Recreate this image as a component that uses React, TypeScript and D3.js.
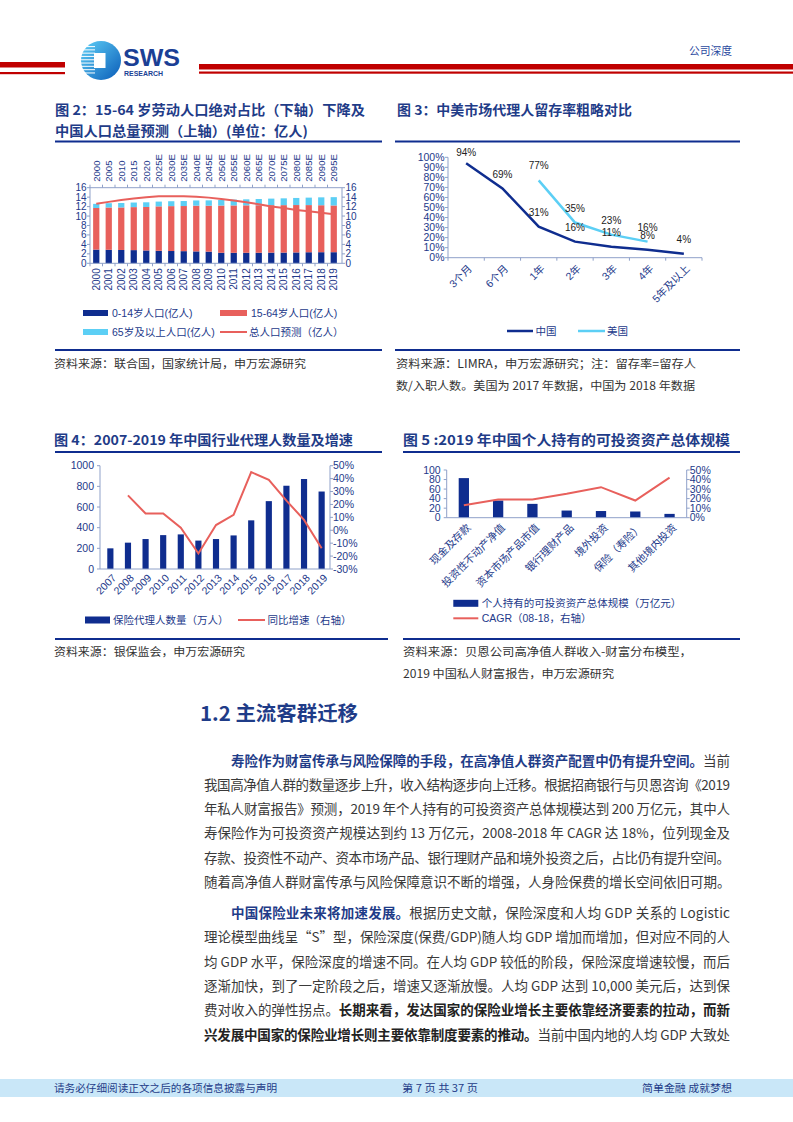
import React from "react";
import * as d3 from "d3";

// ---------- Colours & fonts ----------
const NAVY = "#0f2d8f";
const RED = "#e8605c";
const LIGHT = "#5ccff5";
const BLUE_TXT = "#1f3c88";
const AXIS = "#8fa1c9";
const TICK_TXT = "#23398a";
const BODY = "#3a3a3a";
const AX_FONT = "'Liberation Sans', 'Noto Sans CJK SC', sans-serif";
const CJK = "'Noto Sans CJK SC', sans-serif";

// ---------- Figure 2 data ----------
const popYears = ["2000","2001","2002","2003","2004","2005","2006","2007","2008","2009","2010","2011","2012","2013","2014","2015","2016","2017","2018","2019"];
const popTopLabels = ["2000","2005","2010","2015","2020","2025E","2030E","2035E","2040E","2045E","2050E","2055E","2060E","2065E","2070E","2075E","2080E","2085E","2090E","2095E"];
const pop0to14 = [2.90,2.86,2.82,2.79,2.72,2.65,2.60,2.57,2.52,2.47,2.23,2.22,2.23,2.23,2.26,2.27,2.30,2.34,2.35,2.35];
const pop15to64 = [8.80,8.95,9.00,9.10,9.20,9.40,9.50,9.55,9.68,9.72,9.99,10.03,10.04,10.06,10.05,10.04,10.03,9.98,9.94,9.89];
const pop65plus = [0.88,0.91,0.94,0.97,0.99,1.01,1.04,1.06,1.10,1.13,1.19,1.23,1.27,1.32,1.38,1.44,1.50,1.58,1.67,1.76];
const popForecast = [12.6,13.0,13.4,13.7,14.0,14.2,14.2,14.2,14.1,13.9,13.6,13.3,12.9,12.5,12.0,11.7,11.3,11.0,10.7,10.4];
const popTicks = [0,2,4,6,8,10,12,14,16];
const popLegend = ["0-14岁人口(亿人)","15-64岁人口(亿人)","65岁及以上人口(亿人)","总人口预测（亿人）"];

// ---------- Figure 3 data ----------
const retCats = ["3个月","6个月","1年","2年","3年","4年","5年及以上"];
const retChina = [94,69,31,16,11,8,4];
const retUS: (number | null)[] = [null,null,77,35,23,16,null];
const retTicks = [0,10,20,30,40,50,60,70,80,90,100];
const retLegend = ["中国","美国"];

// ---------- Figure 4 data ----------
const agentYears = ["2007","2008","2009","2010","2011","2012","2013","2014","2015","2016","2017","2018","2019"];
const agentCount = [200,255,290,328,335,275,290,325,471,657,806,871,750];
const agentGrowth: (number | null)[] = [null,27,13,13,2,-18,4,12,45,39,23,8,-14];
const agentLeftTicks = [0,200,400,600,800,1000];
const agentRightTicks = [-30,-20,-10,0,10,20,30,40,50];
const agentLegend = ["保险代理人数量（万人）","同比增速（右轴）"];

// ---------- Figure 5 data ----------
const assetCats = ["现金及存款","投资性不动产净值","资本市场产品市值","银行理财产品","境外投资","保险（寿险）","其他境内投资"];
const assetScale = [83,36,29,15,14,13,8];
const assetCagr = [13,19,19,25,32,18,42];
const assetLeftTicks = [0,20,40,60,80,100];
const assetRightTicks = [0,10,20,30,40,50];
const assetLegend = ["个人持有的可投资资产总体规模（万亿元）","CAGR（08-18，右轴）"];

// ---------- Text content ----------
type Seg = { t: string; s?: "b" | "k" };
const para1: Seg[][] = [
  [{ t: "寿险作为财富传承与风险保障的手段，在高净值人群资产配置中仍有提升空间。", s: "b" }, { t: "当前" }],
  [{ t: "我国高净值人群的数量逐步上升，收入结构逐步向上迁移。根据招商银行与贝恩咨询《2019" }],
  [{ t: "年私人财富报告》预测，2019 年个人持有的可投资资产总体规模达到 200 万亿元，其中人" }],
  [{ t: "寿保险作为可投资资产规模达到约 13 万亿元，2008-2018 年 CAGR 达 18%，位列现金及" }],
  [{ t: "存款、投资性不动产、资本市场产品、银行理财产品和境外投资之后，占比仍有提升空间。" }],
  [{ t: "随着高净值人群财富传承与风险保障意识不断的增强，人身险保费的增长空间依旧可期。" }],
];
const para2: Seg[][] = [
  [{ t: "中国保险业未来将加速发展。", s: "b" }, { t: "根据历史文献，保险深度和人均 GDP 关系的 Logistic" }],
  [{ t: "理论模型曲线呈“S”型，保险深度(保费/GDP)随人均 GDP 增加而增加，但对应不同的人" }],
  [{ t: "均 GDP 水平，保险深度的增速不同。在人均 GDP 较低的阶段，保险深度增速较慢，而后" }],
  [{ t: "逐渐加快，到了一定阶段之后，增速又逐渐放慢。人均 GDP 达到 10,000 美元后，达到保" }],
  [{ t: "费对收入的弹性拐点。" }, { t: "长期来看，发达国家的保险业增长主要依靠经济要素的拉动，而新", s: "k" }],
  [{ t: "兴发展中国家的保险业增长则主要依靠制度要素的推动。", s: "k" }, { t: "当前中国内地的人均 GDP 大致处" }],
];

// ---------- helpers ----------
const RotLabel = ({ x, y, text, angle = -45, anchor = "end", size = 10 }: any) => (
  <text
    transform={`translate(${x},${y}) rotate(${angle})`}
    textAnchor={anchor}
    dy="0.35em"
    fontSize={size}
    fontFamily={AX_FONT}
    fill={TICK_TXT}
  >
    {text}
  </text>
);

function Fig2() {
  const x = d3.scaleBand<string>().domain(popYears).range([90, 340]).paddingInner(0.5).paddingOuter(0.25);
  const xt = d3.scaleBand<string>().domain(popTopLabels).range([90, 340]).paddingInner(0.5).paddingOuter(0.25);
  const y = d3.scaleLinear().domain([0, 16]).range([263.3, 187.7]);
  const rows = popYears.map((yr, i) => ({ yr, a: pop0to14[i], b: pop15to64[i], c: pop65plus[i] }));
  const series = d3.stack<any>().keys(["a", "b", "c"])(rows);
  const colors = [NAVY, RED, LIGHT];
  const line = d3
    .line<number>()
    .x((_, i) => (xt(popTopLabels[i]) as number) + xt.bandwidth() / 2)
    .y((d) => y(d));
  const xl = 90, xr = 342;
  const y0 = y(0), yT = y(16);
  const step = x.step();
  return (
    <g>
      {series.map((s, si) =>
        s.map((d, i) => (
          <rect key={`${si}-${i}`} x={x(popYears[i])} y={y(d[1])} width={x.bandwidth()} height={y(d[0]) - y(d[1])} fill={colors[si]} />
        ))
      )}
      <path d={line(popForecast) || ""} fill="none" stroke={RED} strokeWidth={2} />
      <line x1={xl} x2={xl} y1={yT} y2={y0} stroke={AXIS} />
      <line x1={xr} x2={xr} y1={yT} y2={y0} stroke={AXIS} />
      <line x1={xl} x2={xr} y1={y0} y2={y0} stroke={AXIS} />
      <line x1={xl} x2={xr} y1={yT} y2={yT} stroke={AXIS} />
      {popYears.map((yr) => {
        const bx = (x(yr) as number) - (step - x.bandwidth()) / 2;
        return (
          <g key={yr}>
            <line x1={bx} x2={bx} y1={y0} y2={y0 + 3} stroke={AXIS} />
            <line x1={bx} x2={bx} y1={yT} y2={yT - 3} stroke={AXIS} />
          </g>
        );
      })}
      {popTicks.map((t) => (
        <g key={t}>
          <line x1={xl - 3} x2={xl} y1={y(t)} y2={y(t)} stroke={AXIS} />
          <line x1={xr} x2={xr + 3} y1={y(t)} y2={y(t)} stroke={AXIS} />
          <text x={xl - 3.5} y={y(t)} dy="0.35em" textAnchor="end" fontSize={10} fontFamily={AX_FONT} fill={TICK_TXT}>{t}</text>
          <text x={xr + 3.5} y={y(t)} dy="0.35em" textAnchor="start" fontSize={10} fontFamily={AX_FONT} fill={TICK_TXT}>{t}</text>
        </g>
      ))}
      {popYears.map((yr) => (
        <RotLabel key={yr} x={(x(yr) as number) + x.bandwidth() / 2} y={y0 + 5} text={yr} angle={-90} anchor="end" size={10} />
      ))}
      {popTopLabels.map((yr) => (
        <RotLabel key={yr} x={(xt(yr) as number) + xt.bandwidth() / 2} y={yT - 6} text={yr} angle={-90} anchor="start" size={9.5} />
      ))}
      {/* legend */}
      <rect x={83} y={310} width={25} height={6} fill={NAVY} />
      <text x={112} y={313} dy="0.35em" fontSize={10.5} fontFamily={AX_FONT} fill={TICK_TXT}>{popLegend[0]}</text>
      <rect x={220} y={310} width={27} height={6} fill={RED} />
      <text x={251} y={313} dy="0.35em" fontSize={10.5} fontFamily={AX_FONT} fill={TICK_TXT}>{popLegend[1]}</text>
      <rect x={83} y={329} width={25} height={6} fill={LIGHT} />
      <text x={112} y={332} dy="0.35em" fontSize={10.5} fontFamily={AX_FONT} fill={TICK_TXT}>{popLegend[2]}</text>
      <line x1={220} x2={247} y1={332} y2={332} stroke={RED} strokeWidth={2} />
      <text x={249} y={332} dy="0.35em" fontSize={10.5} fontFamily={AX_FONT} fill={TICK_TXT}>{popLegend[3]}</text>
    </g>
  );
}

function Fig3() {
  const x = d3.scaleBand<string>().domain(retCats).range([448, 702]);
  const y = d3.scaleLinear().domain([0, 100]).range([257.7, 157.3]);
  const cx = (c: string) => (x(c) as number) + x.bandwidth() / 2;
  const line = d3
    .line<number | null>()
    .defined((d) => d != null)
    .x((_, i) => cx(retCats[i]))
    .y((d) => y(d as number));
  const y0 = y(0);
  return (
    <g>
      <line x1={448} x2={448} y1={y(100)} y2={y0} stroke={AXIS} />
      <line x1={448} x2={702} y1={y0} y2={y0} stroke={AXIS} />
      {retTicks.map((t) => (
        <g key={t}>
          <line x1={445} x2={448} y1={y(t)} y2={y(t)} stroke={AXIS} />
          <text x={444.5} y={y(t)} dy="0.35em" textAnchor="end" fontSize={10.5} fontFamily={AX_FONT} fill={TICK_TXT}>{t}%</text>
        </g>
      ))}
      {retCats.map((c) => (
        <line key={c} x1={x(c)} x2={x(c)} y1={y0} y2={y0 + 3} stroke={AXIS} />
      ))}
      <line x1={702} x2={702} y1={y0} y2={y0 + 3} stroke={AXIS} />
      <path d={line(retChina) || ""} fill="none" stroke={NAVY} strokeWidth={2.5} />
      <path d={line(retUS) || ""} fill="none" stroke={LIGHT} strokeWidth={2.5} />
      {retChina.map((v, i) => (
        <text key={"c" + i} x={cx(retCats[i])} y={Math.max(y(v) - 14, 152)} dy="0.35em" textAnchor="middle" fontSize={10} fontFamily={AX_FONT} fill="#222">{v}%</text>
      ))}
      {retUS.map((v, i) =>
        v == null ? null : (
          <text key={"u" + i} x={cx(retCats[i])} y={y(v) - 14.5} dy="0.35em" textAnchor="middle" fontSize={10} fontFamily={AX_FONT} fill="#222">{v}%</text>
        )
      )}
      {retCats.map((c) => (
        <RotLabel key={c} x={cx(c) + 4} y={y0 + 9} text={c} size={10.5} />
      ))}
      <line x1={507} x2={533} y1={331} y2={331} stroke={NAVY} strokeWidth={2.5} />
      <text x={535.5} y={331} dy="0.35em" fontSize={10.5} fontFamily={AX_FONT} fill={TICK_TXT}>{retLegend[0]}</text>
      <line x1={578} x2={605} y1={331} y2={331} stroke={LIGHT} strokeWidth={2.5} />
      <text x={607} y={331} dy="0.35em" fontSize={10.5} fontFamily={AX_FONT} fill={TICK_TXT}>{retLegend[1]}</text>
    </g>
  );
}

function Fig4() {
  const x = d3.scaleBand<string>().domain(agentYears).range([102, 330]).paddingInner(0.65).paddingOuter(0.3);
  const yl = d3.scaleLinear().domain([0, 1000]).range([569, 465.7]);
  const yr = d3.scaleLinear().domain([-30, 50]).range([569, 465.7]);
  const cx = (c: string) => (x(c) as number) + x.bandwidth() / 2;
  const line = d3
    .line<number | null>()
    .defined((d) => d != null)
    .x((_, i) => cx(agentYears[i]))
    .y((d) => yr(d as number));
  const xl = 100, xr = 330, y0 = 569;
  return (
    <g>
      {agentCount.map((v, i) => (
        <rect key={i} x={x(agentYears[i])} y={yl(v)} width={x.bandwidth()} height={y0 - yl(v)} fill={NAVY} />
      ))}
      <path d={line(agentGrowth) || ""} fill="none" stroke={RED} strokeWidth={2} />
      <line x1={xl} x2={xl} y1={465.7} y2={y0} stroke={AXIS} />
      <line x1={xr} x2={xr} y1={465.7} y2={y0} stroke={AXIS} />
      <line x1={xl} x2={xr} y1={y0} y2={y0} stroke={AXIS} />
      {agentLeftTicks.map((t) => (
        <g key={t}>
          <line x1={xl - 3} x2={xl} y1={yl(t)} y2={yl(t)} stroke={AXIS} />
          <text x={xl - 6} y={yl(t)} dy="0.35em" textAnchor="end" fontSize={10.5} fontFamily={AX_FONT} fill={TICK_TXT}>{t}</text>
        </g>
      ))}
      {agentRightTicks.map((t) => (
        <g key={t}>
          <line x1={xr} x2={xr + 3} y1={yr(t)} y2={yr(t)} stroke={AXIS} />
          <text x={xr + 3} y={yr(t)} dy="0.35em" textAnchor="start" fontSize={10.5} fontFamily={AX_FONT} fill={TICK_TXT}>{t}%</text>
        </g>
      ))}
      {agentYears.map((c) => (
        <RotLabel key={c} x={cx(c) + 4} y={y0 + 7} text={c} size={10.5} />
      ))}
      <rect x={85} y={616.5} width={25} height={7} fill={NAVY} />
      <text x={113} y={620} dy="0.35em" fontSize={10.5} fontFamily={AX_FONT} fill={TICK_TXT}>{agentLegend[0]}</text>
      <line x1={238} x2={265} y1={620} y2={620} stroke={RED} strokeWidth={2} />
      <text x={267.5} y={620} dy="0.35em" fontSize={10.5} fontFamily={AX_FONT} fill={TICK_TXT}>{agentLegend[1]}</text>
    </g>
  );
}

function Fig5() {
  const x = d3.scaleBand<string>().domain(assetCats).range([446.7, 686.7]).paddingInner(0.7).paddingOuter(0.35);
  const yl = d3.scaleLinear().domain([0, 100]).range([517.7, 470]);
  const yr = d3.scaleLinear().domain([0, 50]).range([517.7, 470]);
  const cx = (c: string) => (x(c) as number) + x.bandwidth() / 2;
  const line = d3
    .line<number>()
    .x((_, i) => cx(assetCats[i]))
    .y((d) => yr(d));
  const xl = 446.7, xr = 686.7, y0 = 517.7;
  return (
    <g>
      {assetScale.map((v, i) => (
        <rect key={i} x={x(assetCats[i])} y={yl(v)} width={x.bandwidth()} height={y0 - yl(v)} fill={NAVY} />
      ))}
      <path d={line(assetCagr) || ""} fill="none" stroke={RED} strokeWidth={2} />
      <line x1={xl} x2={xl} y1={470} y2={y0} stroke={AXIS} />
      <line x1={xr} x2={xr} y1={470} y2={y0} stroke={AXIS} />
      <line x1={xl} x2={xr} y1={y0} y2={y0} stroke={AXIS} />
      {assetLeftTicks.map((t) => (
        <g key={t}>
          <line x1={xl - 3} x2={xl} y1={yl(t)} y2={yl(t)} stroke={AXIS} />
          <text x={xl - 6} y={yl(t)} dy="0.35em" textAnchor="end" fontSize={10.5} fontFamily={AX_FONT} fill={TICK_TXT}>{t}</text>
        </g>
      ))}
      {assetRightTicks.map((t) => (
        <g key={t}>
          <line x1={xr} x2={xr + 3} y1={yr(t)} y2={yr(t)} stroke={AXIS} />
          <text x={xr + 3} y={yr(t)} dy="0.35em" textAnchor="start" fontSize={10.5} fontFamily={AX_FONT} fill={TICK_TXT}>{t}%</text>
        </g>
      ))}
      {assetCats.map((c) => (
        <RotLabel key={c} x={cx(c) + 5} y={y0 + 8} text={c} size={10.5} />
      ))}
      <rect x={453.3} y={599.8} width={25} height={7} fill={NAVY} />
      <text x={481.7} y={603.3} dy="0.35em" fontSize={10.5} fontFamily={AX_FONT} fill={TICK_TXT}>{assetLegend[0]}</text>
      <line x1={453.3} x2={478.3} y1={618.3} y2={618.3} stroke={RED} strokeWidth={2} />
      <text x={481.7} y={618.3} dy="0.35em" fontSize={10.5} fontFamily={AX_FONT} fill={TICK_TXT}>{assetLegend[1]}</text>
    </g>
  );
}

const Title = ({ x, y, w, children }: any) => (
  <text x={x} y={y} fontSize={13.5} fontWeight={700} fontFamily={CJK} fill={BLUE_TXT} textLength={w} lengthAdjust="spacingAndGlyphs">
    {children}
  </text>
);
const Source = ({ x, y, w, children }: any) => (
  <text x={x} y={y} fontSize={11.5} fontFamily={CJK} fill="#333" textLength={w} lengthAdjust="spacingAndGlyphs">
    {children}
  </text>
);

function Paragraph({ lines, y0, justifyLast }: { lines: Seg[][]; y0: number; justifyLast: boolean }) {
  const right = 730;
  return (
    <g>
      {lines.map((ln, i) => {
        const x = i === 0 ? 231 : 204;
        const justify = justifyLast || i < lines.length - 1;
        return (
          <text
            key={i}
            x={x}
            y={y0 + i * 24.3}
            fontSize={13.5}
            fontFamily={CJK}
            fill={BODY}
            textLength={justify ? right - x : undefined}
            lengthAdjust="spacing"
          >
            {ln.map((sg, j) => (
              <tspan key={j} fontWeight={sg.s ? 700 : 400} fill={sg.s === "b" ? BLUE_TXT : sg.s === "k" ? "#222" : BODY}>
                {sg.t}
              </tspan>
            ))}
          </text>
        );
      })}
    </g>
  );
}

function Header() {
  const stripes = d3.range(9);
  return (
    <g>
      <defs>
        <linearGradient id="logoG" x1="0" y1="0" x2="1" y2="1">
          <stop offset="0" stopColor="#5fd0f7" />
          <stop offset="1" stopColor="#0a5cb8" />
        </linearGradient>
      </defs>
      <rect x={0} y={62} width={65} height={5.5} fill="#c00000" />
      <rect x={0} y={72} width={65} height={2.2} fill="#c00000" />
      <rect x={199} y={64} width={594} height={5.5} fill="#c00000" />
      <rect x={199} y={71.5} width={594} height={2.2} fill="#c00000" />
      <ellipse cx={101} cy={60.5} rx={20} ry={19.5} fill="url(#logoG)" />
      {stripes.map((i) => (
        <rect key={i} x={81} y={46 + i * 3.3} width={14} height={1.1} fill="#ffffff" opacity={0.9} />
      ))}
      <rect x={94} y={53} width={11.5} height={15} fill="#ffffff" />
      <text x={123} y={66} fontSize={24} fontWeight={700} fontFamily="'Liberation Sans', sans-serif" fill="#1b3f95" textLength={57} lengthAdjust="spacingAndGlyphs">SWS</text>
      <text x={124} y={75.5} fontSize={6.5} fontWeight={700} fontFamily="'Liberation Sans', sans-serif" fill="#1b3f95" textLength={39} lengthAdjust="spacingAndGlyphs">RESEARCH</text>
      <text x={689} y={55} fontSize={11} fontFamily={CJK} fill="#2b4aa0" textLength={43} lengthAdjust="spacingAndGlyphs">公司深度</text>
    </g>
  );
}

function Footer() {
  return (
    <g>
      <rect x={0} y={1079} width={793} height={18} fill="#c9e7f8" />
      <text x={54} y={1088} dy="0.35em" fontSize={10.5} fontFamily={CJK} fill={BLUE_TXT} textLength={223} lengthAdjust="spacingAndGlyphs">请务必仔细阅读正文之后的各项信息披露与声明</text>
      <text x={402} y={1088} dy="0.35em" fontSize={10.5} fontFamily={CJK} fill={BLUE_TXT} textLength={76} lengthAdjust="spacingAndGlyphs">第 7 页 共 37 页</text>
      <text x={642} y={1088} dy="0.35em" fontSize={10.5} fontFamily={CJK} fill={BLUE_TXT} textLength={90} lengthAdjust="spacingAndGlyphs">简单金融 成就梦想</text>
    </g>
  );
}

export default function App() {
  return (
    <svg
      width={793}
      height={1122}
      viewBox="0 0 793 1122"
      style={{ position: "absolute", left: 0, top: 0, background: "#fff" }}
    >
      <rect x={0} y={0} width={793} height={1122} fill="#fff" />
      <Header />

      {/* Figure titles row 1 */}
      <Title x={55} y={115} w={310}>图 2：15-64 岁劳动人口绝对占比（下轴）下降及</Title>
      <Title x={55} y={136} w={253}>中国人口总量预测（上轴）(单位：亿人)</Title>
      <Title x={397} y={115} w={235}>图 3：中美市场代理人留存率粗略对比</Title>
      <line x1={55} x2={382} y1={141.5} y2={141.5} stroke="#0f2d8f" strokeWidth={2} />
      <line x1={395} x2={740} y1={141.5} y2={141.5} stroke="#0f2d8f" strokeWidth={2} />
      <Fig2 />
      <Fig3 />
      <line x1={55} x2={382} y1={350} y2={350} stroke="#0f2d8f" strokeWidth={2} />
      <line x1={395} x2={740} y1={350} y2={350} stroke="#0f2d8f" strokeWidth={2} />
      <Source x={54} y={368} w={252}>资料来源：联合国，国家统计局，申万宏源研究</Source>
      <Source x={396} y={368} w={300}>资料来源：LIMRA，申万宏源研究；注：留存率=留存人</Source>
      <Source x={396} y={390} w={299}>数/入职人数。美国为 2017 年数据，中国为 2018 年数据</Source>

      {/* Figure titles row 2 */}
      <Title x={54} y={445} w={299}>图 4：2007-2019 年中国行业代理人数量及增速</Title>
      <Title x={403} y={445} w={327}>图 5 :2019 年中国个人持有的可投资资产总体规模</Title>
      <line x1={55} x2={382} y1={452} y2={452} stroke="#0f2d8f" strokeWidth={2} />
      <line x1={403} x2={740} y1={452} y2={452} stroke="#0f2d8f" strokeWidth={2} />
      <Fig4 />
      <Fig5 />
      <line x1={55} x2={388} y1={639} y2={639} stroke="#0f2d8f" strokeWidth={2} />
      <line x1={403} x2={740} y1={639} y2={639} stroke="#0f2d8f" strokeWidth={2} />
      <Source x={54} y={656} w={191}>资料来源：银保监会，申万宏源研究</Source>
      <Source x={403} y={656} w={289}>资料来源：贝恩公司高净值人群收入-财富分布模型，</Source>
      <Source x={403} y={678} w={211}>2019 中国私人财富报告，申万宏源研究</Source>

      {/* Section */}
      <text x={200} y={721} fontSize={20} fontWeight={700} fontFamily={CJK} fill={BLUE_TXT} textLength={158} lengthAdjust="spacingAndGlyphs">1.2 主流客群迁移</text>
      <Paragraph lines={para1} y0={765.5} justifyLast={false} />
      <Paragraph lines={para2} y0={918} justifyLast={true} />

      <Footer />
    </svg>
  );
}
